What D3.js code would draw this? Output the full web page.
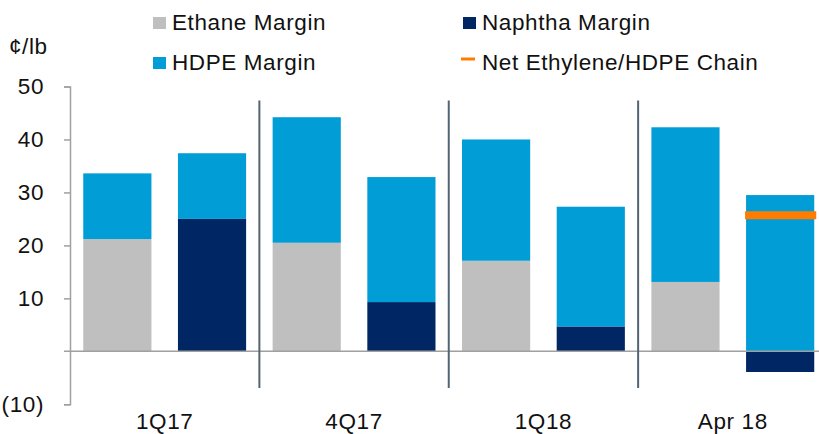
<!DOCTYPE html>
<html>
<head>
<meta charset="utf-8">
<script src="https://cdn.jsdelivr.net/npm/d3@7"></script>
<style>
  html, body { margin: 0; padding: 0; background: #fff; }
  svg { display: block; font-family: "Liberation Sans", Arial, sans-serif; }
  text { fill: #111; font-size: 22.5px; letter-spacing: 0.6px; }
</style>
</head>
<body>
<svg id="chart" width="819" height="434"></svg>
<script>
// ---- data ----
const groups = ["1Q17", "4Q17", "1Q18", "Apr 18"];
const ethaneMargin = [21.2, 20.5, 17.1, 13.1];
const ethaneHdpeMargin = [12.4, 23.7, 22.9, 29.2];
const naphthaMargin = [25.0, 9.3, 4.7, -3.9];
const naphthaHdpeMargin = [12.4, 23.6, 22.6, 29.5];
const netChain = [null, null, null, 25.7];
const yTicks = [-10, 10, 20, 30, 40, 50];
const yTickLabels = ["(10)", "10", "20", "30", "40", "50"];
const legendItems = ["Ethane Margin", "Naphtha Margin", "HDPE Margin", "Net Ethylene/HDPE Chain"];

const colors = {
  ethane: "#BFBFBF",
  naphtha: "#002664",
  hdpe: "#009DD6",
  net: "#FF7C00",
  axis: "#A0A0A0",
  sep: "#536474"
};

// build bar list
const bars = [];
groups.forEach((g, i) => {
  bars.push({ id: g + "-E", group: g, feed: ethaneMargin[i], feedType: "ethane", hdpe: ethaneHdpeMargin[i], net: null });
  bars.push({ id: g + "-N", group: g, feed: naphthaMargin[i], feedType: "naphtha", hdpe: naphthaHdpeMargin[i], net: netChain[i] });
});

const svg = d3.select("#chart");

const y = d3.scaleLinear().domain([-10, 50]).range([404.3, 86.5]);
const x = d3.scaleBand().domain(bars.map(d => d.id)).range([70, 827.5]).paddingInner(0.28).paddingOuter(0.14);
const step = x.step();

// bars
bars.forEach(d => {
  const x0 = x(d.id), w = x.bandwidth();
  svg.append("rect")
    .attr("x", x0).attr("width", w)
    .attr("y", y(Math.max(0, d.feed)))
    .attr("height", Math.abs(y(d.feed) - y(0)))
    .attr("fill", colors[d.feedType]);
  const base = Math.max(0, d.feed);
  svg.append("rect")
    .attr("x", x0).attr("width", w)
    .attr("y", y(base + d.hdpe))
    .attr("height", y(base) - y(base + d.hdpe))
    .attr("fill", colors.hdpe);
});

// zero line
svg.append("line")
  .attr("x1", 64).attr("x2", 819)
  .attr("y1", y(0)).attr("y2", y(0))
  .attr("stroke", colors.axis).attr("stroke-width", 1.5);

// net chain markers
bars.filter(d => d.net != null).forEach(d => {
  svg.append("line")
    .attr("x1", x(d.id) - 1).attr("x2", x(d.id) + x.bandwidth() + 2)
    .attr("y1", y(d.net)).attr("y2", y(d.net))
    .attr("stroke", colors.net).attr("stroke-width", 8);
});

// group separators
groups.slice(1).forEach(g => {
  const sx = x(g + "-E") - step * 0.28 / 2;
  svg.append("line")
    .attr("x1", sx).attr("x2", sx)
    .attr("y1", 100.5).attr("y2", 388)
    .attr("stroke", colors.sep).attr("stroke-width", 2);
});

// y axis
const yAxis = d3.axisLeft(y)
  .tickValues(yTicks)
  .tickSize(6)
  .tickPadding(20)
  .tickFormat((d, i) => yTickLabels[i]);
const ga = svg.append("g").attr("transform", "translate(70,0)").call(yAxis);
ga.attr("font-size", null).attr("font-family", null);
ga.select(".domain").attr("stroke", colors.axis).attr("stroke-width", 1.5);
ga.selectAll(".tick line").attr("stroke", colors.axis).attr("stroke-width", 1.5);
ga.selectAll(".tick text").style("fill", "#111");

// unit label
svg.append("text").attr("x", 9).attr("y", 54).text("¢/lb");

// group labels
groups.forEach(g => {
  const cx = (x(g + "-E") + x(g + "-N") + x.bandwidth()) / 2;
  svg.append("text").attr("x", cx).attr("y", 429).attr("text-anchor", "middle").text(g);
});

// legend
const legendPos = [
  { x: 153, y: 30 }, { x: 463, y: 30 },
  { x: 153, y: 70 }, { x: 463, y: 70 }
];
const legendKeys = ["ethane", "naphtha", "hdpe", "net"];
legendItems.forEach((name, i) => {
  const p = legendPos[i];
  const key = legendKeys[i];
  if (key === "net") {
    svg.append("line").attr("x1", p.x - 2).attr("x2", p.x + 12)
      .attr("y1", p.y - 11).attr("y2", p.y - 11)
      .attr("stroke", colors.net).attr("stroke-width", 3);
  } else {
    svg.append("rect").attr("x", p.x).attr("y", p.y - 13)
      .attr("width", 13).attr("height", 12).attr("fill", colors[key]);
  }
  svg.append("text").attr("x", p.x + 19).attr("y", p.y).text(name);
});
</script>
</body>
</html>
